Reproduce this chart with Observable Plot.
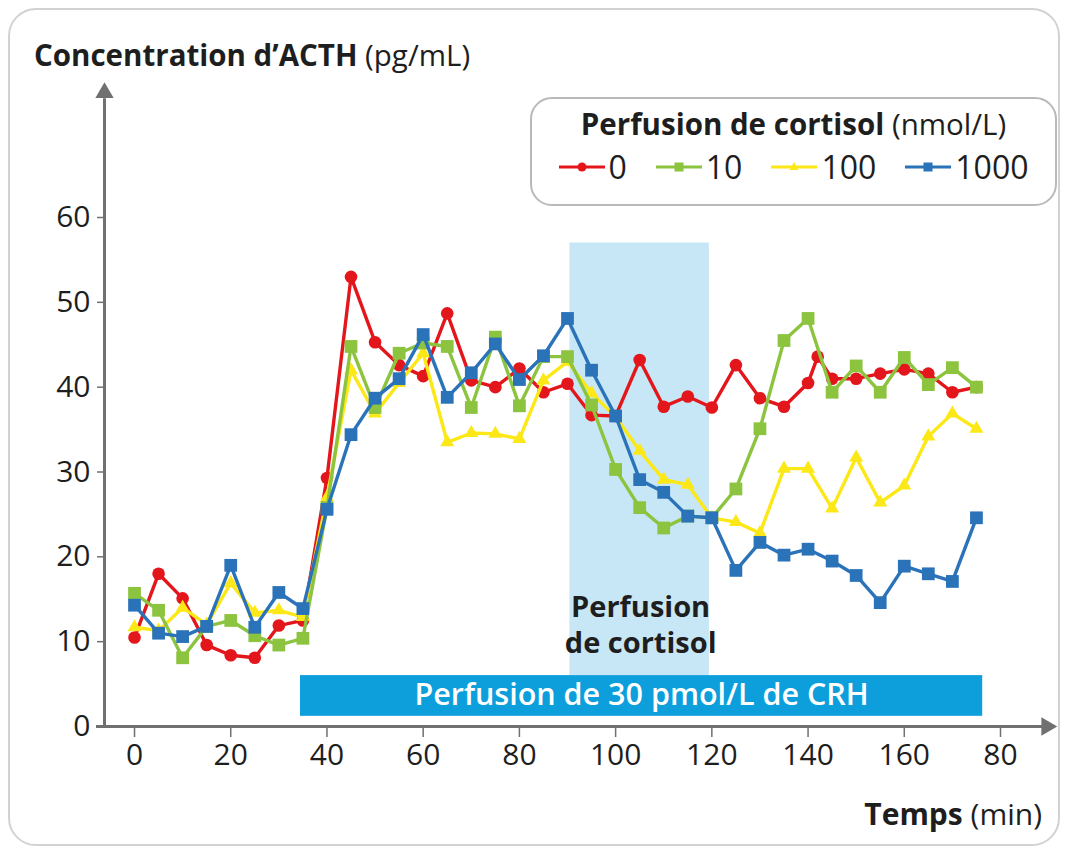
<!DOCTYPE html>
<html><head><meta charset="utf-8">
<script src="https://cdn.jsdelivr.net/npm/d3@7"></script>
<script src="https://cdn.jsdelivr.net/npm/@observablehq/plot@0.6"></script>
<style>
body{margin:0;background:#fff;font-family:"Open Sans",sans-serif;color:#1e1e1e;}
#wrap{position:relative;width:1068px;height:852px;overflow:hidden;}
#frame{position:absolute;left:8px;top:8px;width:1052px;height:838px;border:2px solid #d2d2d2;border-radius:28px;box-sizing:border-box;}
#chart{position:absolute;left:0;top:0;}
#ytitle{position:absolute;left:34px;top:36px;font-size:29.5px;line-height:38px;white-space:nowrap;}
#xtitle{position:absolute;right:26px;top:795px;font-size:30px;line-height:38px;white-space:nowrap;}
#legend{position:absolute;left:530px;top:97px;width:527px;height:109px;border:2px solid #b9b9b9;border-radius:22px;box-sizing:border-box;background:#fff;}
#legend .lt{position:absolute;left:0;right:0;top:6px;text-align:center;font-size:29.5px;line-height:38px;white-space:nowrap;}
#legend .items{position:absolute;left:0;right:0;top:48px;display:flex;justify-content:center;gap:29px;font-size:32px;line-height:40px;}
#legend .it{display:flex;align-items:center;}
#legend svg{margin-right:4px;}
b{font-weight:700;}
</style>
</head><body>
<div id="wrap">
  <div id="frame"></div>
  <div id="chart"></div>
  <div id="ytitle"><b>Concentration d’ACTH</b> (pg/mL)</div>
  <div id="xtitle"><b>Temps</b> (min)</div>
  <div id="legend"><div class="lt"><b>Perfusion de cortisol</b> (nmol/L)</div><div class="items"></div></div>
</div>
<script>
// ---- data ----
const times = [0,5,10,15,20,25,30,35,40,45,50,55,60,65,70,75,80,85,90,95,100,105,110,115,120,125,130,135,140,145,150,155,160,165,170,175];
const timesDose0 = [0,5,10,15,20,25,30,35,40,45,50,55,60,65,70,75,80,85,90,95,100,105,110,115,120,125,130,135,140,142,145,150,155,160,165,170,175];
const dose0    = [10.5,18.0,15.1,9.6,8.4,8.1,11.9,12.5,29.3,53.0,45.3,42.6,41.3,48.7,40.8,40.0,42.2,39.4,40.4,36.7,36.6,43.2,37.7,38.9,37.6,42.6,38.7,37.7,40.5,43.6,41.0,41.0,41.6,42.1,41.6,39.4,40.0];
const dose10   = [15.7,13.7,8.1,11.8,12.5,10.7,9.6,10.4,25.8,44.8,37.6,44.0,45.2,44.8,37.6,45.9,37.8,43.6,43.6,37.9,30.3,25.8,23.4,24.8,24.6,28.0,35.1,45.5,48.1,39.4,42.5,39.4,43.5,40.3,42.3,40.0];
const dose100  = [11.7,11.3,14.0,12.0,16.9,13.4,13.7,12.9,27.0,42.0,36.9,40.5,44.0,33.5,34.6,34.5,33.9,40.8,43.0,39.3,36.5,32.5,29.1,28.5,24.6,24.1,22.8,30.4,30.4,25.7,31.7,26.4,28.4,34.2,36.9,35.1];
const dose1000 = [14.3,11.0,10.6,11.8,19.0,11.7,15.8,13.9,25.6,34.4,38.7,41.0,46.2,38.8,41.7,45.1,40.9,43.7,48.1,42.0,36.6,29.1,27.6,24.8,24.6,18.4,21.7,20.2,20.9,19.5,17.8,14.6,18.9,18.0,17.1,24.6];

const seriesNames  = ["0","10","100","1000"];
const seriesColors = ["#e3161c","#8cc43f","#fce817","#2a73b9"];
const seriesSymbols = ["circle","square","triangle","square"];
const seriesR = [6.3,7.2,5.2,7.2];

const yTicks = [0,10,20,30,40,50,60];
const xTicks = [0,20,40,60,80,100,120,140,160,180];
const xTickLabels = ["0","20","40","60","80","100","120","140","160","80"];

// annotations
const cortisolWindow = {x1:90.5, x2:119.5, y1:6.0, y2:57.0};
const crhBar = {x1:34.5, x2:176.3, y1:1.2, y2:6.0, label:"Perfusion de 30 pmol/L de CRH", lx:105.4, ly:3.65};
const cortisolLabels = [
  {x:105.2, y:14.0, text:"Perfusion"},
  {x:105.2, y:9.75, text:"de cortisol"}
];
const yAxisLine = {x:-6.24, y1:0, y2:74.0, arrowY:74.7};
const xAxisLine = {y:0, x1:-7.9, x2:189.0, arrowX:189.6};

// ---- build table ----
const sets = [
  {name:"0", t:timesDose0, v:dose0},
  {name:"10", t:times, v:dose10},
  {name:"100", t:times, v:dose100},
  {name:"1000", t:times, v:dose1000}
];
const rows = sets.flatMap(s => s.t.map((t,i)=>({series:s.name, t, v:s.v[i]})));
const drawOrder = ["0","100","10","1000"];
const axisGray = "#707070";

const seriesMarks = drawOrder.flatMap(name => {
  const k = seriesNames.indexOf(name);
  const d = rows.filter(r => r.series === name);
  return [
    Plot.line(d, {x:"t", y:"v", stroke:seriesColors[k], strokeWidth:3.4, strokeLinejoin:"round"}),
    Plot.dot(d, {x:"t", y:"v", fill:seriesColors[k], stroke:"none", symbol:seriesSymbols[k], r:seriesR[k]})
  ];
});

const chart = Plot.plot({
  width:1068, height:852,
  marginLeft:104, marginRight:68, marginTop:217, marginBottom:126,
  x:{domain:[-6.24,180], axis:null},
  y:{domain:[0,60], axis:null},
  style:{background:"transparent", color:"#1e1e1e", fontFamily:"'Open Sans', sans-serif"},
  marks:[
    Plot.rect([cortisolWindow], {x1:"x1", x2:"x2", y1:"y1", y2:"y2", fill:"#c8e7f6"}),
    Plot.rect([crhBar], {x1:"x1", x2:"x2", y1:"y1", y2:"y2", fill:"#0d9fdc"}),
    Plot.text([crhBar], {x:"lx", y:"ly", text:"label", fill:"#fff", fontSize:30.5, fontWeight:600}),
    Plot.text(cortisolLabels, {x:"x", y:"y", text:"text", fill:"#1e1e1e", fontSize:29, fontWeight:700}),
    Plot.ruleX([yAxisLine], {x:"x", y1:"y1", y2:"y2", stroke:axisGray, strokeWidth:3}),
    Plot.dot([yAxisLine], {x:"x", y:"arrowY", symbol:"triangle", r:6.8, fill:axisGray, stroke:"none"}),
    Plot.ruleY([xAxisLine], {y:"y", x1:"x1", x2:"x2", stroke:axisGray, strokeWidth:3}),
    Plot.dot([xAxisLine], {x:"arrowX", y:"y", symbol:"triangle", r:6.8, rotate:90, fill:axisGray, stroke:"none"}),
    Plot.axisY(yTicks, {anchor:"left", tickSize:7, tickPadding:7, fontSize:30, stroke:axisGray, strokeWidth:1.5, fill:"#1e1e1e"}),
    Plot.axisX(xTicks, {anchor:"bottom", tickSize:11, tickPadding:6, fontSize:30, stroke:axisGray, strokeWidth:1.5, fill:"#1e1e1e", tickFormat:d => xTickLabels[xTicks.indexOf(d)]}),
    ...seriesMarks
  ]
});
document.getElementById("chart").appendChild(chart);

// legend
const items = document.querySelector("#legend .items");
seriesNames.forEach((name,k) => {
  const it = document.createElement("span");
  it.className = "it";
  const sym = seriesSymbols[k];
  let marker;
  if (sym === "circle") marker = `<circle cx="23" cy="10" r="4.5" fill="${seriesColors[k]}"/>`;
  else if (sym === "square") marker = `<rect x="18.5" y="5.5" width="9" height="9" fill="${seriesColors[k]}"/>`;
  else marker = `<path d="M23,5 L27.5,13 L18.5,13 Z" fill="${seriesColors[k]}"/>`;
  it.innerHTML = `<svg width="46" height="20"><line x1="0" x2="46" y1="10" y2="10" stroke="${seriesColors[k]}" stroke-width="3"/>${marker}</svg><span>${name}</span>`;
  items.appendChild(it);
});
</script>
</body></html>
